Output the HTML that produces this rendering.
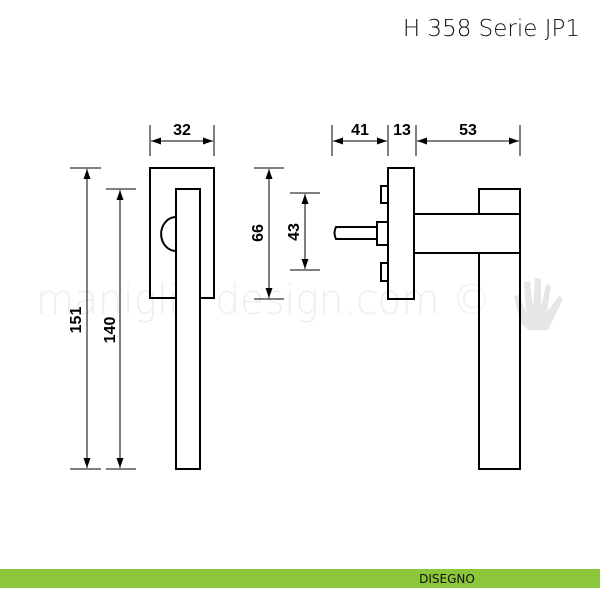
<!DOCTYPE html>
<html><head><meta charset="utf-8"><style>
html,body{margin:0;padding:0;background:#fff;width:600px;height:600px;overflow:hidden}
svg{display:block}
</style></head><body>
<svg width="600" height="600" viewBox="0 0 600 600" xmlns="http://www.w3.org/2000/svg">
<defs>
<marker id="a" viewBox="0 0 10 10" refX="10" refY="5" markerWidth="10" markerHeight="10" markerUnits="userSpaceOnUse" orient="auto-start-reverse"><path d="M0,1.5 L10,5 L0,8.5 Z" fill="#000"/></marker>
</defs>
<text x="36" y="314" font-family="'DejaVu Sans ExtraLight','DejaVu Sans','Liberation Sans',sans-serif" font-weight="200" font-size="42" fill="#eeeeee" textLength="455" lengthAdjust="spacingAndGlyphs">maniglie design.com ©</text>
<path d="M520,322 L514,296 L519,295 L526,312 L524,282 L530,281 L533,308 L535,278 L541,279 L541,308 L546,284 L551,286 L547,312 L559,296 L563,299 L548,330 L528,330 Z" fill="#e6e6e6"/>
<text x="580" y="36" text-anchor="end" font-family="'DejaVu Sans','Liberation Sans',sans-serif" font-size="23" font-weight="300" fill="#111">H 358 Serie JP1</text>
<g fill="none" stroke="#000" stroke-width="2">
<rect x="150" y="168" width="64" height="130"/>
<rect x="176" y="189" width="24" height="280" fill="#fff"/>
<path d="M176,217 A14,16 0 0 0 176,251"/>
<rect x="388" y="168" width="26" height="131"/>
<rect x="414" y="214" width="106" height="39"/>
<rect x="479" y="189" width="41" height="25"/>
<rect x="479" y="253" width="41" height="216"/>
<rect x="381" y="186" width="7" height="17"/>
<rect x="381" y="263" width="7" height="18"/>
<rect x="377" y="222" width="11" height="23"/>
<path d="M377,227 L336,227 Q333,233 336,239 L377,239"/>
</g>
<g stroke="#000" stroke-width="1">
<line x1="70" y1="168" x2="101" y2="168"/><line x1="70" y1="469" x2="101" y2="469"/>
<line x1="106" y1="189" x2="136" y2="189"/><line x1="106" y1="469" x2="136" y2="469"/>
<line x1="150" y1="125" x2="150" y2="156"/><line x1="214" y1="125" x2="214" y2="156"/>
<line x1="254" y1="168" x2="284" y2="168"/><line x1="254" y1="299" x2="284" y2="299"/>
<line x1="290" y1="193" x2="320" y2="193"/><line x1="290" y1="270" x2="320" y2="270"/>
<line x1="332" y1="125" x2="332" y2="156"/><line x1="388" y1="125" x2="388" y2="156"/>
<line x1="416" y1="125" x2="416" y2="156"/><line x1="520" y1="125" x2="520" y2="156"/>
<line x1="87" y1="169" x2="87" y2="468" marker-start="url(#a)" marker-end="url(#a)"/>
<line x1="120" y1="190" x2="120" y2="468" marker-start="url(#a)" marker-end="url(#a)"/>
<line x1="151" y1="141" x2="213" y2="141" marker-start="url(#a)" marker-end="url(#a)"/>
<line x1="269" y1="169" x2="269" y2="298" marker-start="url(#a)" marker-end="url(#a)"/>
<line x1="305" y1="194" x2="305" y2="269" marker-start="url(#a)" marker-end="url(#a)"/>
<line x1="333" y1="141" x2="387" y2="141" marker-start="url(#a)" marker-end="url(#a)"/>
<line x1="417" y1="141" x2="519" y2="141" marker-start="url(#a)" marker-end="url(#a)"/>
</g>
<g font-family="'Liberation Sans',sans-serif" font-weight="bold" font-size="16" fill="#000" text-anchor="middle">
<text x="182" y="135">32</text>
<text x="360" y="135">41</text>
<text x="402" y="135">13</text>
<text x="468" y="135">53</text>
<text transform="translate(81,320) rotate(-90)">151</text>
<text transform="translate(115,330) rotate(-90)">140</text>
<text transform="translate(263,233) rotate(-90)">66</text>
<text transform="translate(299,232) rotate(-90)">43</text>
</g>
<rect x="0" y="569" width="600" height="19" fill="#8cc63a"/>
<text x="447" y="583" text-anchor="middle" font-family="'DejaVu Sans','Liberation Sans',sans-serif" font-size="12" fill="#111">DISEGNO</text>
</svg>
</body></html>
